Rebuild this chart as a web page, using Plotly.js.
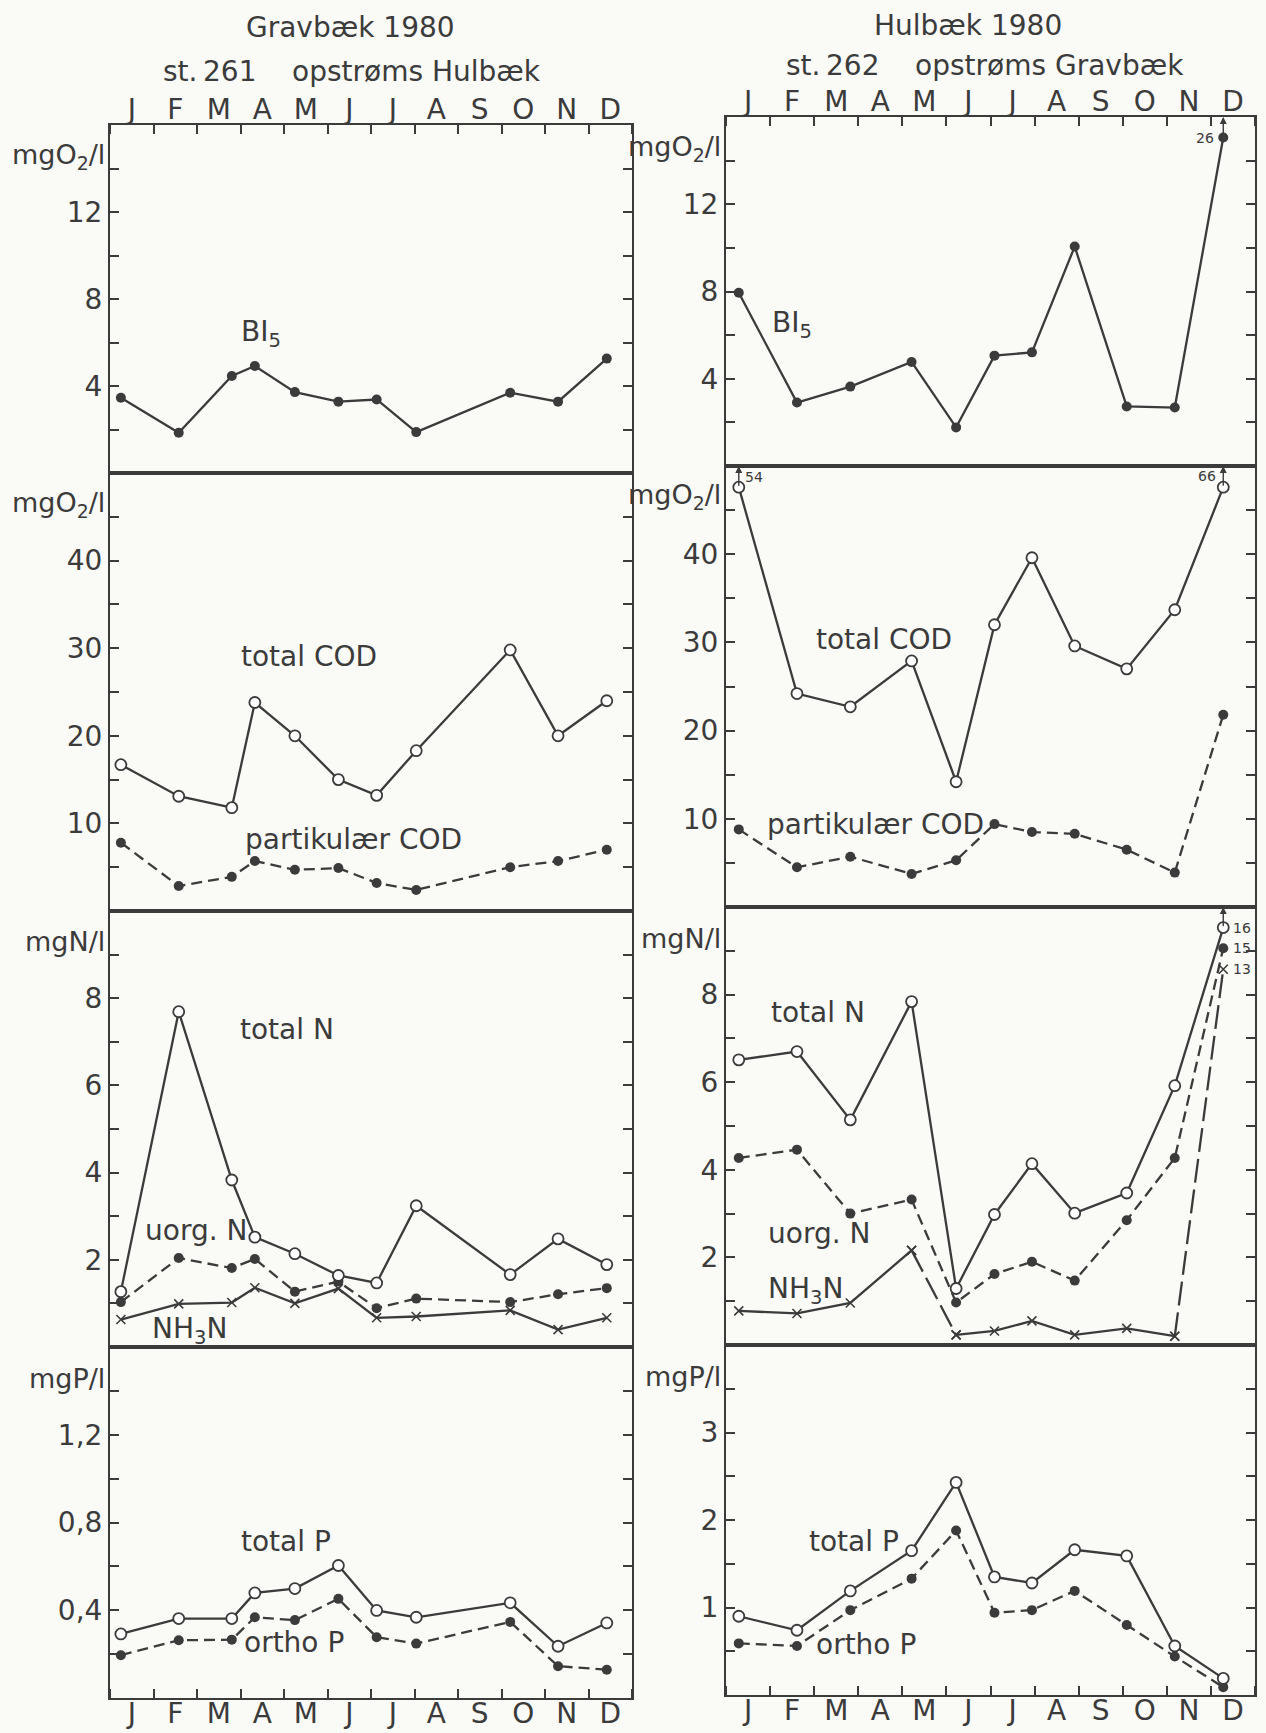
<!DOCTYPE html>
<html><head><meta charset="utf-8">
<script src="https://cdn.plot.ly/plotly-3.0.1.min.js"></script>
<style>html,body{margin:0;padding:0;background:#fafaf7}</style>
</head><body><div id="chart" style="width:1266px;height:1733px"></div>
<script>
// ---------------- data ----------------
const months = ['J','F','M','A','M','J','J','A','S','O','N','D'];
// sampling dates, in months from 1 January (0 = start of Jan, 12 = end of Dec)
const leftDays  = [0.25, 1.58, 2.80, 3.33, 4.25, 5.25, 6.13, 7.04, 9.20, 10.30, 11.42];
const rightDays = [0.29, 1.61, 2.82, 4.21, 5.22, 6.09, 6.94, 7.91, 9.09, 10.18, 11.28];

// st. 261 Gravbæk
const leftBI5     = [3.46, 1.85, 4.46, 4.92, 3.72, 3.28, 3.38, 1.88, 3.69, 3.28, 5.26];
const leftTotCOD  = [16.7, 13.1, 11.8, 23.8, 20.0, 15.0, 13.2, 18.3, 29.8, 20.0, 24.0];
const leftPartCOD = [7.8, 2.85, 3.9, 5.7, 4.7, 4.9, 3.2, 2.4, 5.0, 5.7, 7.0];
const leftTotN    = [1.27, 7.69, 3.83, 2.52, 2.14, 1.64, 1.47, 3.24, 1.66, 2.48, 1.89];
const leftUorgN   = [1.03, 2.04, 1.81, 2.02, 1.27, 1.50, 0.89, 1.11, 1.03, 1.21, 1.35];
const leftNH3N    = [0.63, 0.99, 1.02, 1.36, 1.00, 1.34, 0.67, 0.70, 0.84, 0.40, 0.67];
const leftTotP    = [0.292, 0.362, 0.362, 0.479, 0.499, 0.604, 0.399, 0.368, 0.434, 0.236, 0.342];
const leftOrthoP  = [0.195, 0.263, 0.266, 0.368, 0.355, 0.452, 0.277, 0.248, 0.347, 0.145, 0.129];

// st. 262 Hulbæk
const rightBI5     = [7.94, 2.91, 3.64, 4.77, 1.77, 5.06, 5.21, 10.06, 2.73, 2.68, 26];
const rightTotCOD  = [54, 24.2, 22.7, 27.9, 14.2, 32.0, 39.6, 29.6, 27.0, 33.7, 66];
const rightPartCOD = [8.8, 4.5, 5.7, 3.75, 5.3, 9.4, 8.5, 8.3, 6.5, 3.9, 21.8];
const rightTotN    = [6.51, 6.70, 5.14, 7.84, 1.29, 2.98, 4.14, 3.01, 3.47, 5.92, 16];
const rightUorgN   = [4.27, 4.46, 3.00, 3.32, 0.97, 1.62, 1.90, 1.47, 2.85, 4.27, 15];
const rightNH3N    = [0.78, 0.72, 0.96, 2.16, 0.23, 0.32, 0.55, 0.23, 0.38, 0.20, 13];
const rightTotP    = [0.90, 0.74, 1.19, 1.65, 2.43, 1.35, 1.28, 1.66, 1.59, 0.56, 0.19];
const rightOrthoP  = [0.59, 0.56, 0.97, 1.33, 1.88, 0.94, 0.97, 1.19, 0.80, 0.44, 0.09];

// where off-scale values are drawn (just under the panel top)
const rightBI5Break = 15.06;
const rightCODBreak = 47.6;
const rightTotNBreak = 9.53, rightUorgNBreak = 9.06, rightNH3NBreak = 8.58;

// ---------------- style / layout ----------------
const INK = '#3b3b3b';
const FONT = 'DejaVu Sans, Verdana, sans-serif';
const W = 1266, H = 1733;
const colX = {L:[110, 632], R:[726, 1255]};
const rowY = {L:[125, 473, 911, 1347, 1698], R:[117, 466, 907, 1345, 1695]};

const panels = [
  {col:'L', row:0, range:[0,16],  tv:[4,8,12], tt:['4','8','12'], minor:2, unit:'mgO<sub>2</sub>/l'},
  {col:'L', row:1, range:[0,50],  tv:[10,20,30,40], tt:['10','20','30','40'], minor:5, unit:'mgO<sub>2</sub>/l'},
  {col:'L', row:2, range:[0,10],  tv:[2,4,6,8], tt:['2','4','6','8'], minor:1, unit:'mgN/l'},
  {col:'L', row:3, range:[0,1.6], tv:[0.4,0.8,1.2], tt:['0,4','0,8','1,2'], minor:0.2, unit:'mgP/l'},
  {col:'R', row:0, range:[0,16],  tv:[4,8,12], tt:['4','8','12'], minor:2, unit:'mgO<sub>2</sub>/l'},
  {col:'R', row:1, range:[0,50],  tv:[10,20,30,40], tt:['10','20','30','40'], minor:5, unit:'mgO<sub>2</sub>/l'},
  {col:'R', row:2, range:[0,10],  tv:[2,4,6,8], tt:['2','4','6','8'], minor:1, unit:'mgN/l'},
  {col:'R', row:3, range:[0,4],   tv:[1,2,3], tt:['1','2','3'], minor:0.5, unit:'mgP/l'}
];

const layout = {
  width: W, height: H, margin:{l:0,r:0,t:0,b:0},
  paper_bgcolor:'#fafaf7', plot_bgcolor:'#fafaf7',
  showlegend:false, font:{family:FONT, size:28, color:INK},
  annotations:[]
};
const mids = months.map((m,i)=>i+0.5);
function axn(i){ return i===1 ? '' : String(i); }

panels.forEach((p, k) => {
  const id = k+1, n = axn(id);
  const xs = colX[p.col], ys = rowY[p.col];
  const xd = [xs[0]/W, xs[1]/W];
  const yd = [1 - ys[p.row+1]/H, 1 - ys[p.row]/H];
  const xa = {domain:xd, range:[0,12], anchor:'y'+n, showline:true, mirror:true,
    linecolor:INK, linewidth:2, showgrid:false, zeroline:false, ticks:''};
  if (p.row === 0 || p.row === 3) {
    Object.assign(xa, {side: p.row===0 ? 'top':'bottom', tickmode:'array', tickvals:mids,
      ticktext:months, showticklabels:true, ticklabelstandoff: p.row===0 ? -7 : -11,
      tickfont:{size:28, family:FONT, color:INK},
      minor:{tickmode:'linear', tick0:0, dtick:1, ticks:'inside', ticklen:9, tickwidth:2, tickcolor:INK}});
  } else {
    xa.showticklabels = false;
  }
  layout['xaxis'+n] = xa;
  layout['yaxis'+n] = {domain:yd, range:p.range, anchor:'x'+n, showline:true, mirror:'ticks',
    linecolor:INK, linewidth:2, showgrid:false, zeroline:false,
    tickmode:'array', tickvals:p.tv, ticktext:p.tt, ticks:'inside', ticklen:9, tickwidth:2, tickcolor:INK,
    tickfont:{size:28, family:FONT, color:INK},
    minor:{tickmode:'linear', tick0:0, dtick:p.minor, ticks:'inside', ticklen:9, tickwidth:2, tickcolor:INK}};
  layout.annotations.push({xref:'x'+n+' domain', yref:'y'+n+' domain', x:0, y:1, xanchor:'right', yanchor:'middle',
    xshift:-3, yshift:-31, text:p.unit, showarrow:false, font:{size:27, family:FONT, color:INK}});
});

// ---------------- traces ----------------
const traces = [];
const MK = {
  open:  {symbol:'circle', size:11, color:'#ffffff', line:{color:INK, width:1.8}},
  filled:{symbol:'circle', size:10, color:INK, line:{color:INK, width:0}},
  cross: {symbol:'x-thin-open', size:9, color:INK, line:{color:INK, width:1.6}}
};
const DASH = '11px,6px', LONG = '24px,7px';
function clip(vals, top, brk){ return vals.map(v => v > top ? brk : v); }
function add(id, days, vals, kind, dash){
  const n = axn(id);
  traces.push({type:'scatter', mode:'lines+markers', x:days, y:vals, xaxis:'x'+n, yaxis:'y'+n,
    line:{color:INK, width:2.3, dash: dash || 'solid'}, marker:MK[kind], cliponaxis:false, hoverinfo:'x+y'});
}
// left
add(1, leftDays, leftBI5, 'filled');
add(2, leftDays, leftPartCOD, 'filled', DASH);
add(2, leftDays, leftTotCOD, 'open');
add(3, leftDays, leftNH3N, 'cross');
add(3, leftDays, leftUorgN, 'filled', DASH);
add(3, leftDays, leftTotN, 'open');
add(4, leftDays, leftOrthoP, 'filled', DASH);
add(4, leftDays, leftTotP, 'open');
// right
add(5, rightDays, clip(rightBI5, 16, rightBI5Break), 'filled');
add(6, rightDays, rightPartCOD, 'filled', DASH);
add(6, rightDays, clip(rightTotCOD, 50, rightCODBreak), 'open');
// NH3-N: solid except the two long-dashed jumps (May->Jun and Nov->Dec)
const nh3 = clip(rightNH3N, 10, rightNH3NBreak);
const jumps = [3, 9];
const solidX = [], solidY = [], dashX = [], dashY = [];
for (let i = 0; i < rightDays.length - 1; i++) {
  solidX.push(rightDays[i]); solidY.push(nh3[i]);
  if (jumps.includes(i)) {
    solidX.push(null); solidY.push(null);
    dashX.push(rightDays[i], rightDays[i+1], null); dashY.push(nh3[i], nh3[i+1], null);
  }
}
add(7, dashX, dashY, 'cross', LONG);
add(7, solidX, solidY, 'cross');
add(7, rightDays, clip(rightUorgN, 10, rightUorgNBreak), 'filled', DASH);
add(7, rightDays, clip(rightTotN, 10, rightTotNBreak), 'open');
add(8, rightDays, rightOrthoP, 'filled', DASH);
add(8, rightDays, rightTotP, 'open');

// ---------------- text ----------------
function lab(id, x, y, text, opts){
  const n = axn(id);
  layout.annotations.push(Object.assign({xref:'x'+n, yref:'y'+n, x, y, text, showarrow:false,
    font:{size:28, family:FONT, color:INK}}, opts || {}));
}
lab(1, 3.48, 6.4, 'BI<sub>5</sub>');
lab(5, 1.5, 6.5, 'BI<sub>5</sub>');
lab(2, 4.58, 29.1, 'total COD');
lab(2, 5.6, 8.2, 'partikulær COD');
lab(6, 3.59, 30.3, 'total COD');
lab(6, 3.38, 9.4, 'partikulær COD');
lab(3, 4.08, 7.29, 'total N');
lab(3, 1.97, 2.67, 'uorg. N');
lab(3, 1.83, 0.38, 'NH<sub>3</sub>N');
lab(7, 2.08, 7.59, 'total N');
lab(7, 2.1, 2.54, 'uorg. N');
lab(7, 1.8, 1.25, 'NH<sub>3</sub>N');
lab(4, 4.05, 0.715, 'total P');
lab(4, 4.22, 0.251, 'ortho P');
lab(8, 2.9, 1.75, 'total P');
lab(8, 3.18, 0.58, 'ortho P');

// off-scale arrows and true values
function arrow(id, x, yFrom, yTo){
  const n = axn(id);
  layout.annotations.push({xref:'x'+n, yref:'y'+n, axref:'x'+n, ayref:'y'+n, x, y:yTo, ax:x, ay:yFrom,
    text:'', showarrow:true, arrowhead:2, arrowsize:1, arrowwidth:1.4, arrowcolor:INK, standoff:0, startstandoff:0});
}
const SMALL = {size:14, family:FONT, color:INK};
arrow(5, rightDays[10], rightBI5Break, 16);
lab(5, rightDays[10], rightBI5Break, String(rightBI5[10]), {xanchor:'right', xshift:-7, font:SMALL});
arrow(6, rightDays[0], rightCODBreak, 50);
lab(6, rightDays[0], 48.7, String(rightTotCOD[0]), {xanchor:'left', xshift:4, font:SMALL});
arrow(6, rightDays[10], rightCODBreak, 50);
lab(6, rightDays[10], 48.9, String(rightTotCOD[10]), {xanchor:'right', xshift:-5, font:SMALL});
arrow(7, rightDays[10], rightTotNBreak, 10);
lab(7, rightDays[10], rightTotNBreak, String(rightTotN[10]), {xanchor:'left', xshift:8, font:SMALL});
lab(7, rightDays[10], rightUorgNBreak, String(rightUorgN[10]), {xanchor:'left', xshift:8, font:SMALL});
lab(7, rightDays[10], rightNH3NBreak, String(rightNH3N[10]), {xanchor:'left', xshift:8, font:SMALL});

// headings
function head(x, y, text){
  layout.annotations.push({xref:'paper', yref:'paper', x:x/W, y:1-y/H, text, showarrow:false,
    xanchor:'center', yanchor:'middle', font:{size:28, family:FONT, color:INK}});
}
head(351, 27, 'Gravbæk 1980');
head(352, 72, 'st.\u2009261\u00a0\u00a0\u00a0 opstrøms Hulbæk');
head(968, 25, 'Hulbæk 1980');
head(985, 66, 'st.\u2009262\u00a0\u00a0\u00a0 opstrøms Gravbæk');

Plotly.newPlot('chart', traces, layout, {staticPlot:true});
</script></body></html>
